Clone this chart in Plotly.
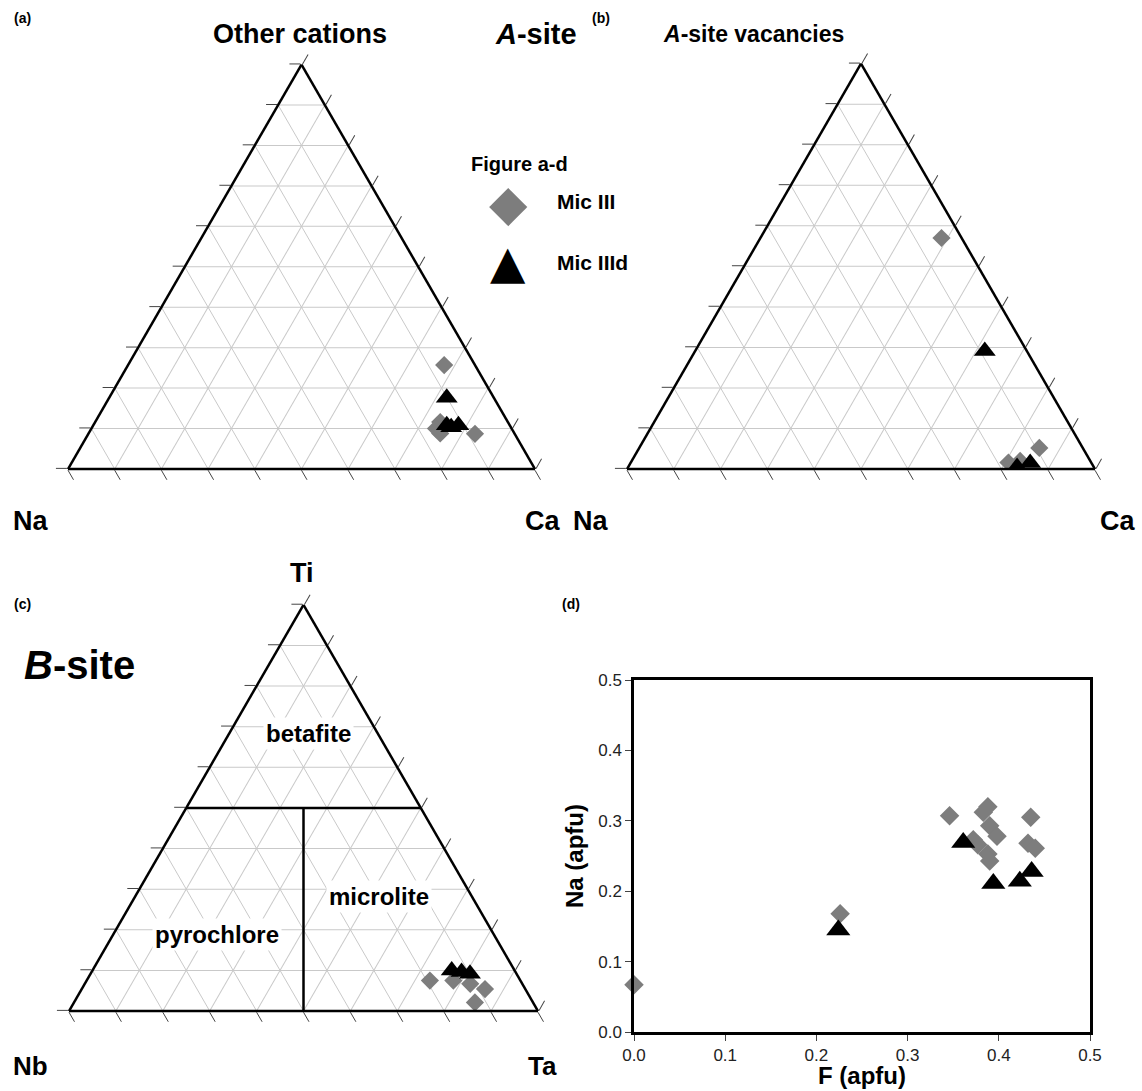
import plotly.graph_objects as go

W, H = 1142, 1091

# ---------------- data ----------------
# (a) A-site: Other cations (top), Na (left), Ca (right)
a_other_mic3 = [0.257, 0.116, 0.100, 0.088, 0.087]
a_na_mic3 = [0.066, 0.145, 0.162, 0.159, 0.085]
a_ca_mic3 = [0.677, 0.739, 0.738, 0.753, 0.828]
a_other_mic3d = [0.176, 0.108, 0.103, 0.108]
a_na_mic3d = [0.101, 0.135, 0.128, 0.110]
a_ca_mic3d = [0.723, 0.757, 0.769, 0.782]

# (b) A-site vacancies (top), Na (left), Ca (right)
b_vac_mic3 = [0.570, 0.016, 0.052, 0.020]
b_na_mic3 = [0.043, 0.177, 0.093, 0.150]
b_ca_mic3 = [0.387, 0.807, 0.855, 0.830]
b_vac_mic3d = [0.291, 0.005, 0.015]
b_na_mic3d = [0.090, 0.164, 0.131]
b_ca_mic3d = [0.619, 0.831, 0.854]

# (c) B-site: Ti (top), Nb (left), Ta (right)
c_ti_mic3 = [0.075, 0.075, 0.067, 0.054, 0.021]
c_nb_mic3 = [0.193, 0.143, 0.111, 0.086, 0.124]
c_ta_mic3 = [0.732, 0.782, 0.822, 0.860, 0.855]
c_ti_mic3d = [0.100, 0.096, 0.092]
c_nb_mic3d = [0.134, 0.115, 0.099]
c_ta_mic3d = [0.766, 0.789, 0.809]

# field boundaries in (c)
bound_h_ti = [0.5, 0.5]
bound_h_nb = [0.5, 0.0]
bound_h_ta = [0.0, 0.5]
bound_v_ti = [0.5, 0.0]
bound_v_nb = [0.25, 0.5]
bound_v_ta = [0.25, 0.5]

# (d) F vs Na (apfu)
f_mic3 = [0.000, 0.226, 0.346, 0.388, 0.383, 0.390, 0.372, 0.377, 0.398, 0.388, 0.390, 0.435, 0.432, 0.440]
na_mic3 = [0.067, 0.168, 0.307, 0.320, 0.312, 0.293, 0.273, 0.266, 0.278, 0.253, 0.243, 0.305, 0.268, 0.261]
f_mic3d = [0.224, 0.361, 0.394, 0.423, 0.436]
na_mic3d = [0.145, 0.269, 0.211, 0.214, 0.228]
d_ticks = [0.0, 0.1, 0.2, 0.3, 0.4, 0.5]

series_names = ["Mic III", "Mic IIId"]

# ---------------- style ----------------
FONT = "Liberation Sans, Arial, sans-serif"
GREY = "#7d7d7d"
DIA = dict(symbol="diamond", size=14, color=GREY, line=dict(width=0))
TRI = dict(symbol="triangle-up", size=19, color="black", line=dict(width=0))


def px(x):
    return x / W


def py(y):
    return 1 - y / H


def tern_domain(left, right, bottom):
    h = (right - left) * 0.8660254
    return dict(x=[px(left), px(right)], y=[py(bottom), py(bottom - h)])


tax = dict(showticklabels=False, ticks="outside", ticklen=11, tickwidth=1,
           tickcolor="#444", showline=True, linecolor="black", linewidth=2.5,
           showgrid=True, gridcolor="#c9c9c9", gridwidth=1,
           tickmode="linear", tick0=0, dtick=0.1, min=0, title=dict(text=""))


def tern(dom):
    return dict(domain=dom, sum=1, bgcolor="white",
                aaxis=tax, baxis=tax, caxis=tax)


fig = go.Figure()

# (a)
fig.add_trace(go.Scatterternary(a=a_other_mic3, b=a_na_mic3, c=a_ca_mic3, mode="markers",
                                marker=DIA, name=series_names[0], subplot="ternary", showlegend=False))
fig.add_trace(go.Scatterternary(a=a_other_mic3d, b=a_na_mic3d, c=a_ca_mic3d, mode="markers",
                                marker=TRI, name=series_names[1], subplot="ternary", showlegend=False))
# (b)
fig.add_trace(go.Scatterternary(a=b_vac_mic3, b=b_na_mic3, c=b_ca_mic3, mode="markers",
                                marker=DIA, name=series_names[0], subplot="ternary2", showlegend=False))
fig.add_trace(go.Scatterternary(a=b_vac_mic3d, b=b_na_mic3d, c=b_ca_mic3d, mode="markers",
                                marker=TRI, name=series_names[1], subplot="ternary2", showlegend=False))
# (c)
fig.add_trace(go.Scatterternary(a=bound_h_ti, b=bound_h_nb, c=bound_h_ta, mode="lines",
                                line=dict(color="black", width=2.5), subplot="ternary3",
                                showlegend=False, hoverinfo="skip"))
fig.add_trace(go.Scatterternary(a=bound_v_ti, b=bound_v_nb, c=bound_v_ta, mode="lines",
                                line=dict(color="black", width=2.5), subplot="ternary3",
                                showlegend=False, hoverinfo="skip"))
fig.add_trace(go.Scatterternary(a=c_ti_mic3, b=c_nb_mic3, c=c_ta_mic3, mode="markers",
                                marker=DIA, name=series_names[0], subplot="ternary3", showlegend=False))
fig.add_trace(go.Scatterternary(a=c_ti_mic3d, b=c_nb_mic3d, c=c_ta_mic3d, mode="markers",
                                marker=TRI, name=series_names[1], subplot="ternary3", showlegend=False))
# (d)
fig.add_trace(go.Scatter(x=f_mic3, y=na_mic3, mode="markers", marker=dict(DIA, size=15),
                         name=series_names[0], showlegend=False, cliponaxis=False))
fig.add_trace(go.Scatter(x=f_mic3d, y=na_mic3d, mode="markers", marker=dict(TRI, size=21),
                         name=series_names[1], showlegend=False, cliponaxis=False))

ann = []


def text(x, y, t, size, xanchor="center", color="black", bg=None, family=FONT, angle=0):
    d = dict(x=px(x), y=py(y), xref="paper", yref="paper", text=t, showarrow=False,
             xanchor=xanchor, yanchor="middle", textangle=angle,
             font=dict(family=family, size=size, color=color))
    if bg:
        d.update(bgcolor=bg, borderpad=2)
    ann.append(d)


text(12, 18, "<b>(a)</b>", 14, "left")
text(300, 34, "<b>Other cations</b>", 27)
text(536, 34, "<b><i>A</i>-site</b>", 29)
text(590, 18, "<b>(b)</b>", 14, "left")
text(753, 34, "<b><i>A</i>-site vacancies</b>", 23)
text(519, 164, "<b>Figure a-d</b>", 20)
text(508, 203, "◆", 50, color=GREY, family="DejaVu Sans")
text(555, 202, "<b>" + series_names[0] + "</b>", 21, "left")
text(508, 262, "▲", 46, family="DejaVu Sans")
text(555, 263, "<b>" + series_names[1] + "</b>", 21, "left")
text(30, 521, "<b>Na</b>", 27)
text(542, 521, "<b>Ca</b>", 27)
text(590, 521, "<b>Na</b>", 27)
text(1117, 521, "<b>Ca</b>", 27)
text(12, 604, "<b>(c)</b>", 14, "left")
text(302, 573, "<b>Ti</b>", 27)
text(79, 665, "<b><i>B</i>-site</b>", 40)
text(560, 604, "<b>(d)</b>", 14, "left")
text(308, 733, "<b>betafite</b>", 24, bg="white")
text(379, 896, "<b>microlite</b>", 24, bg="white")
text(217, 934, "<b>pyrochlore</b>", 24, bg="white")
text(30, 1066, "<b>Nb</b>", 26)
text(542, 1066, "<b>Ta</b>", 26)
# axis titles of (d)
text(862, 1075, "<b>F (apfu)</b>", 24)
text(574, 856, "<b>Na (apfu)</b>", 24, angle=-90)

common_ax = dict(showgrid=False, zeroline=False, showline=True, linecolor="black", linewidth=2.5,
                 mirror=True, ticks="outside", ticklen=6, tickwidth=1, tickcolor="#444",
                 tickmode="array", tickvals=d_ticks, ticktext=[f"{v:.1f}" for v in d_ticks],
                 tickfont=dict(family=FONT, size=17, color="#222"), range=[0, 0.5],
                 automargin=False)

fig.update_layout(
    template="none",
    width=W, height=H, margin=dict(l=0, r=0, t=0, b=0, pad=0, autoexpand=False),
    paper_bgcolor="white", plot_bgcolor="white", showlegend=False,
    font=dict(family=FONT, color="black"),
    ternary=tern(tern_domain(68, 535, 469)),
    ternary2=tern(tern_domain(627, 1095, 469)),
    ternary3=tern(tern_domain(69, 538, 1011)),
    xaxis=dict(common_ax, domain=[px(634), px(1090)], anchor="y"),
    yaxis=dict(common_ax, domain=[py(1032), py(680)], anchor="x"),
    annotations=ann,
)

fig.write_html("out.html", config={"displayModeBar": False},
               post_script="document.body.style.margin='0';")
